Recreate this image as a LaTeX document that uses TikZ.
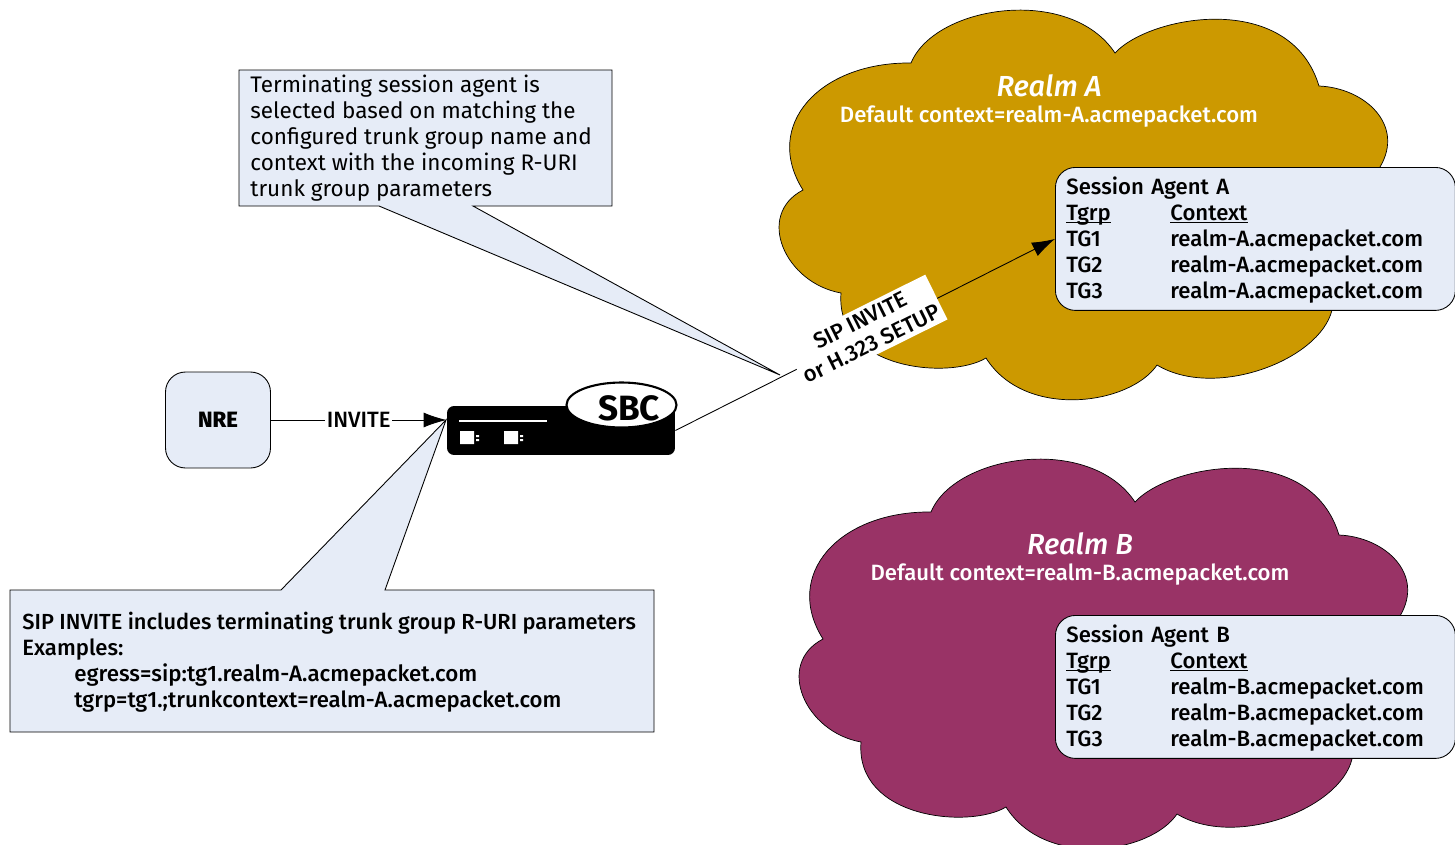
\documentclass[tikz,border=0pt]{standalone}
\usepackage{fontspec}
\setmainfont{Fira Sans}
\newfontfamily\medfont{Fira Sans Medium}
\usetikzlibrary{shapes, positioning, calc, arrows.meta}

\definecolor{realmgold}{HTML}{CC9900}
\definecolor{realmplum}{HTML}{993366}
\definecolor{notefill}{HTML}{E6ECF7}

\newcommand{\realmoutline}{(803,190)
  .. controls (762,125) and (820,62) .. (911,63)
  .. controls (935,5) and (1070,-15) .. (1115,53)
  .. controls (1150,15) and (1290,-10) .. (1319,86)
  .. controls (1365,88) and (1405,125) .. (1380,167)
  .. controls (1370,220) and (1345,270) .. (1332,310)
  .. controls (1320,360) and (1215,400) .. (1157,365)
  .. controls (1130,405) and (1025,420) .. (986,358)
  .. controls (950,380) and (835,370) .. (841,293)
  .. controls (785,283) and (755,215) .. (803,190) -- cycle}

\newcommand{\agenttable}[1]{%
  \raisebox{-0.04cm}[\height][\depth]{\begin{tabular}{@{}p{2.08cm}@{}l@{}}
    \multicolumn{2}{@{}l}{Session Agent #1}\\
    \underline{\smash{Tgrp}} & \underline{\smash{Context}}\\
    TG1 & realm-#1.acmepacket.com\\
    TG2 & realm-#1.acmepacket.com\\
    TG3 & realm-#1.acmepacket.com
  \end{tabular}}}

\begin{document}
\begin{tikzpicture}[x=0.02cm, y=-0.02cm, line width=0.5pt,
    every node/.style={font=\fontsize{12.6}{14.8}\selectfont\medfont}]

  \tikzset{realm/.style={draw=black, line width=0.4pt}}
  \tikzset{realmtitle/.style={text=white, font=\fontsize{16.5}{18}\selectfont\medfont\itshape}}
  \tikzset{realmtext/.style={text=white}}
  \tikzset{agent/.style={draw, fill=notefill, rounded corners=0.4cm, anchor=north west,
      minimum width=8cm, minimum height=2.86cm, text width=7.56cm, inner xsep=0.22cm, inner ysep=0pt}}
  \tikzset{note/.style={draw, fill=notefill}}
  \tikzset{notetext/.style={anchor=west, align=left, inner sep=0pt}}
  \tikzset{ptr/.style={-{Latex[length=0.46cm, width=0.3cm]}}}

  \clip (0,0) rectangle (1455,845);

  % realms
  \fill[realmgold, realm] \realmoutline;
  \fill[realmplum, realm, shift={(20,449)}] \realmoutline;
  \node[realmtitle] (titleA) at (1049,86) {Realm A};
  \node[realmtext] (ctxA) at (1049,117) {Default context=realm-A.acmepacket.com};
  \node[realmtitle] (titleB) at (1080,544) {Realm B};
  \node[realmtext] (ctxB) at (1080,575) {Default context=realm-B.acmepacket.com};

  % session agents
  \node[agent] (agentA) at (1055,167) {\agenttable{A}};
  \node[agent] (agentB) at (1055,615) {\agenttable{B}};

  % callouts
  \draw[note] (239,70) -- (612,70) -- (612,206) -- (473,206) -- (780,375)
    -- (379,206) -- (239,206) -- cycle;
  \node[notetext, font=\fontsize{12.8}{14.8}\selectfont\rmfamily] (selectnote) at (250,138) {Terminating session agent is\\
    selected based on matching the\\
    configured trunk group name and\\
    context with the incoming R-URI\\
    trunk group parameters};
  \draw[note] (10,590) -- (281,590) -- (446,420) -- (385,590) -- (654,590)
    -- (654,732) -- (10,732) -- cycle;
  \node[notetext] (invitenote) at (22,662.5) {{\fontsize{12.42}{14.8}\selectfont SIP INVITE includes terminating trunk group R-URI parameters}\\
    Examples:\\
    \hspace*{1.04cm}{\fontsize{12.7}{14.8}\selectfont egress=sip:tg1.realm-A.acmepacket.com}\\
    \hspace*{1.04cm}tgrp=tg1.;trunkcontext=realm-A.acmepacket.com};

  % devices
  \node[draw, fill=notefill, rounded corners=0.4cm, minimum width=2.1cm, minimum height=1.92cm] (nre) at (218,420)
    {\textbf{NRE}};
  \node[fill=black, rounded corners=0.14cm, minimum width=4.56cm, minimum height=0.98cm, inner sep=0pt] (sbc) at (561,430.5) {};
  \node[ellipse, draw, fill=white, line width=1.2pt, minimum width=2.2cm, minimum height=0.9cm, inner sep=0pt] (sbcoval) at (621.5,405) {};
  \node[font=\fontsize{20}{20}\selectfont\bfseries, inner sep=0pt] (sbcname) at (629,408) {SBC};
  \fill[white] (459,420) rectangle (547,422);
  \fill[white] (460,431) rectangle (474,444) (476,435) rectangle (479,437) (476,439) rectangle (479,441);
  \fill[white] (504,431) rectangle (518,444) (520,435) rectangle (523,437) (520,439) rectangle (523,441);

  % signalling
  \draw[ptr] (nre.east) -- node[fill=white, inner sep=1pt, pos=0.5] (invite) {INVITE} (nre.east -| sbc.west);
  \draw[ptr] (sbc.east) -- (agentA.west);
  \node[fill=white, rotate=26.4, align=center, inner sep=2pt, minimum height=1cm] (setup) at (866,332)
    {SIP INVITE\\or H.323 SETUP};
\end{tikzpicture}
\end{document}
